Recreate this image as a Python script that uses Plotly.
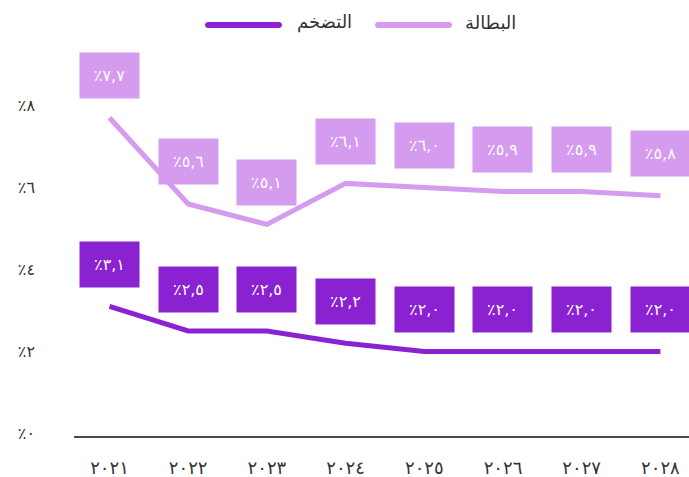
import plotly.graph_objects as go

years = ["٢٠٢١", "٢٠٢٢", "٢٠٢٣", "٢٠٢٤", "٢٠٢٥", "٢٠٢٦", "٢٠٢٧", "٢٠٢٨"]
unemployment = [7.7, 5.6, 5.1, 6.1, 6.0, 5.9, 5.9, 5.8]
inflation = [3.1, 2.5, 2.5, 2.2, 2.0, 2.0, 2.0, 2.0]
unemp_labels = ["٪٧,٧", "٪٥,٦", "٪٥,١", "٪٦,١", "٪٦,٠", "٪٥,٩", "٪٥,٩", "٪٥,٨"]
infl_labels = ["٪٣,١", "٪٢,٥", "٪٢,٥", "٪٢,٢", "٪٢,٠", "٪٢,٠", "٪٢,٠", "٪٢,٠"]
y_ticks = [0, 2, 4, 6, 8]
y_tick_text = ["٪٠", "٪٢", "٪٤", "٪٦", "٪٨"]
series_names = ["البطالة", "التضخم"]

LIGHT = "#D49BEE"
DARK = "#8A22D2"
FONT = "DejaVu Sans, sans-serif"

W, H = 689, 477
L, R, T, B = 74, 0, 40, 41
PW, PH = W - L - R, H - T - B

x_idx = list(range(len(years)))

fig = go.Figure()
fig.add_trace(go.Scatter(x=x_idx, y=unemployment, mode="lines",
                         line=dict(color=LIGHT, width=5), name=series_names[0],
                         showlegend=False, hoverinfo="skip"))
fig.add_trace(go.Scatter(x=x_idx, y=inflation, mode="lines",
                         line=dict(color=DARK, width=5), name=series_names[1],
                         showlegend=False, hoverinfo="skip"))

annotations = []
for xs, vals, labs, col in [(x_idx, unemployment, unemp_labels, LIGHT),
                            (x_idx, inflation, infl_labels, DARK)]:
    for x, v, t in zip(xs, vals, labs):
        annotations.append(dict(x=x, y=v, xref="x", yref="y", text=t,
                                showarrow=False, xanchor="center", yanchor="middle",
                                yshift=42, width=59, height=45, borderpad=0,
                                bgcolor=col, font=dict(color="white", size=16, family=FONT)))

def px_to_paper(px, py):
    return (px - L) / PW, (H - B - py) / PH

# legend (manual)
shapes = []
def pill(cx, cy, color, half=38.5, r=3):
    xa, ya = px_to_paper(cx, cy)
    a = half - r
    k = r * 1.33
    path = (f"M {-a},{-r} L {a},{-r} C {a + k},{-r} {a + k},{r} {a},{r} "
            f"L {-a},{r} C {-a - k},{r} {-a - k},{-r} {-a},{-r} Z")
    return dict(type="path", xref="paper", yref="paper", xsizemode="pixel",
                ysizemode="pixel", xanchor=xa, yanchor=ya, path=path,
                fillcolor=color, line=dict(width=0))

shapes.append(pill(413.5, 25, LIGHT))
shapes.append(pill(243.5, 25, DARK))
for name, right_px in [(series_names[0], 518), (series_names[1], 354)]:
    xa, ya = px_to_paper(right_px, 22)
    annotations.append(dict(x=xa, y=ya, xref="paper", yref="paper", text=name,
                            showarrow=False, xanchor="right", yanchor="middle",
                            font=dict(size=18, color="#333333", family=FONT)))

ymin = -2.5 / 41
ymax = ymin + PH / 41.0
x_left = -0.451
x_right = x_left + PW / 78.7

fig.update_layout(
    width=W, height=H,
    margin=dict(l=L, r=R, t=T, b=B, pad=0),
    paper_bgcolor="white", plot_bgcolor="white",
    showlegend=False,
    annotations=annotations,
    shapes=shapes,
    font=dict(family=FONT, color="#333333"),
    xaxis=dict(range=[x_left, x_right], tickmode="array", tickvals=x_idx,
               ticktext=years, showgrid=False, zeroline=False, showline=True,
               linecolor="#4a4a4a", linewidth=2, ticks="",
               tickfont=dict(size=18, color="#333333"), ticklabelstandoff=14),
    yaxis=dict(range=[ymin, ymax], tickmode="array", tickvals=y_ticks,
               ticktext=y_tick_text, showgrid=False, zeroline=False,
               showline=False, ticks="", tickfont=dict(size=16, color="#333333"),
               ticklabelstandoff=38),
)

fig.write_html("out.html", config={"displayModeBar": False},
               post_script="document.body.style.margin='0';document.body.style.overflow='hidden';")
